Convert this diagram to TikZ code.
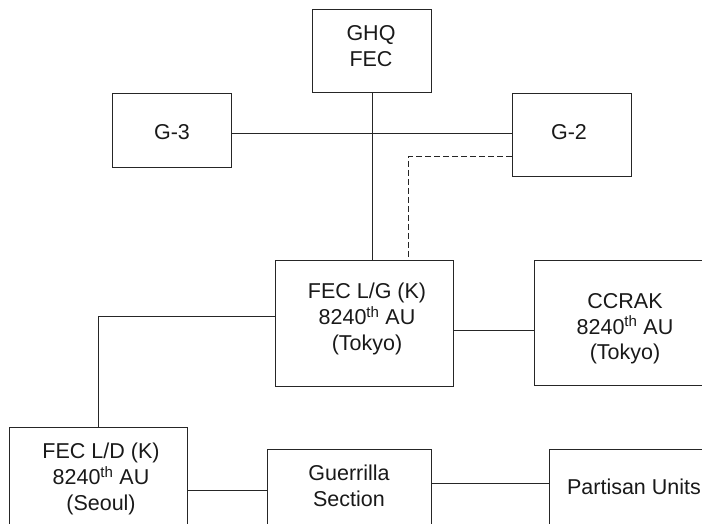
\documentclass[tikz,border=0pt]{standalone}
\usepackage{fontspec}
\setmainfont{Liberation Sans}
\begin{document}
\begin{tikzpicture}[x=1pt,y=-1pt,
  box/.style={draw=black!85, line width=0.9pt, inner sep=0pt, anchor=north west},
  conn/.style={draw=black!85, line width=0.9pt},
  txt/.style={inner sep=0pt, align=center, font=\fontsize{21.5}{25.8}\selectfont, text=black!90}]
\useasboundingbox (0,0) rectangle (702,523);
\clip (0,0) rectangle (702,523);
% boxes
\node[box, minimum width=119pt, minimum height=83pt] (ghq) at (312,9) {};
\node[box, minimum width=119pt, minimum height=74pt] (g3) at (112,93) {};
\node[box, minimum width=119pt, minimum height=83pt] (g2) at (512,93) {};
\node[box, minimum width=178pt, minimum height=126pt] (lg) at (275,260) {};
\node[box, minimum width=178pt, minimum height=125pt] (ccrak) at (534,260) {};
\node[box, minimum width=178pt, minimum height=130pt] (ld) at (9,427) {};
\node[box, minimum width=164pt, minimum height=120pt] (guer) at (267,449) {};
\node[box, minimum width=180pt, minimum height=120pt] (part) at (549,449) {};
% texts
\node[txt, anchor=north] (ghqt) at (371,25) {GHQ\\FEC};
\node[txt, anchor=base] (g3t) at (172,139) {G-3};
\node[txt, anchor=base] (g2t) at (569,139) {G-2};
\node[txt, anchor=north] (lgt) at (367,283) {FEC L/G (K)\\8240\textsuperscript{th} AU\\(Tokyo)};
\node[txt, anchor=north] (ccrakt) at (625,293) {CCRAK\\8240\textsuperscript{th} AU\\(Tokyo)};
\node[txt, anchor=north] (ldt) at (101,443) {FEC L/D (K)\\8240\textsuperscript{th} AU\\(Seoul)};
\node[txt, anchor=north] (guert) at (349,465) {Guerrilla\\Section};
\node[txt, anchor=base] (partt) at (634,494) {Partisan Units};
% connectors
\draw[conn] (ghq.south) -- (ghq.south |- lg.north);
\draw[conn] ([yshift=-3pt]g3.east) -- ([yshift=-3pt]g3.east -| g2.west);
\draw[conn, dash pattern=on 6pt off 3pt] ([yshift=-21.5pt]g2.west) -| ([xshift=44pt]lg.north);
\draw[conn] ([yshift=7pt]lg.west) -| (ld.north);
\draw[conn] ([yshift=-7pt]lg.east) -- ([yshift=-7pt]lg.east -| ccrak.west);
\draw[conn] ([yshift=2pt]ld.east) -- ([yshift=2pt]ld.east -| guer.west);
\draw[conn] ([yshift=26pt]guer.east) -- ([yshift=26pt]guer.east -| part.west);
\end{tikzpicture}
\end{document}
